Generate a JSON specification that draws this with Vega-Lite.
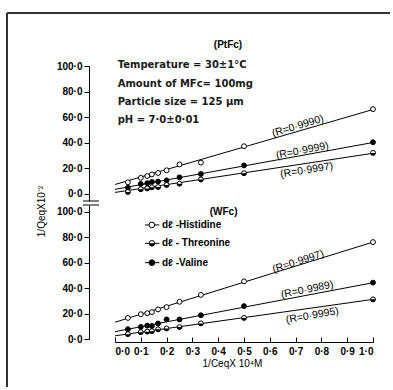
{
  "$schema": "https://vega.github.io/schema/vega-lite/v6.json",
  "padding": {"left": 6, "top": 12, "right": 0, "bottom": 0},
  "autosize": {"type": "pad"},
  "background": "white",
  "bounds": "flush",
  "spacing": 4,
  "config": {
    "view": {"stroke": null},
    "font": "Liberation Sans",
    "axis": {"domainColor": "black", "tickColor": "black", "labelColor": "black", "titleColor": "black", "grid": false, "labelFont": "Liberation Sans", "titleFont": "Liberation Sans", "labelFontSize": 10, "labelFontWeight": "bold", "titleFontSize": 10, "titleFontWeight": "normal", "domainWidth": 1, "tickWidth": 1}
  },
  "datasets": {
    "pts": [
      {"panel": "top", "amino": "Histidine", "x": 0.05, "y": 9.1}, {"panel": "top", "amino": "Histidine", "x": 0.1, "y": 12.6}, {"panel": "top", "amino": "Histidine", "x": 0.125, "y": 14.0}, {"panel": "top", "amino": "Histidine", "x": 0.143, "y": 15.3}, {"panel": "top", "amino": "Histidine", "x": 0.167, "y": 16.4}, {"panel": "top", "amino": "Histidine", "x": 0.2, "y": 18.5}, {"panel": "top", "amino": "Histidine", "x": 0.25, "y": 23.1}, {"panel": "top", "amino": "Histidine", "x": 0.333, "y": 24.5}, {"panel": "top", "amino": "Histidine", "x": 0.5, "y": 37.3}, {"panel": "top", "amino": "Histidine", "x": 1.0, "y": 66.3},
      {"panel": "top", "amino": "Valine", "x": 0.05, "y": 4.8}, {"panel": "top", "amino": "Valine", "x": 0.1, "y": 7.8}, {"panel": "top", "amino": "Valine", "x": 0.125, "y": 8.4}, {"panel": "top", "amino": "Valine", "x": 0.143, "y": 9.4}, {"panel": "top", "amino": "Valine", "x": 0.167, "y": 9.7}, {"panel": "top", "amino": "Valine", "x": 0.2, "y": 10.6}, {"panel": "top", "amino": "Valine", "x": 0.25, "y": 13.0}, {"panel": "top", "amino": "Valine", "x": 0.333, "y": 15.6}, {"panel": "top", "amino": "Valine", "x": 0.5, "y": 22.3}, {"panel": "top", "amino": "Valine", "x": 1.0, "y": 40.4},
      {"panel": "top", "amino": "Threonine", "x": 0.05, "y": 1.5}, {"panel": "top", "amino": "Threonine", "x": 0.1, "y": 3.7}, {"panel": "top", "amino": "Threonine", "x": 0.125, "y": 4.3}, {"panel": "top", "amino": "Threonine", "x": 0.143, "y": 5.2}, {"panel": "top", "amino": "Threonine", "x": 0.167, "y": 5.4}, {"panel": "top", "amino": "Threonine", "x": 0.2, "y": 7.0}, {"panel": "top", "amino": "Threonine", "x": 0.25, "y": 8.0}, {"panel": "top", "amino": "Threonine", "x": 0.333, "y": 11.3}, {"panel": "top", "amino": "Threonine", "x": 0.5, "y": 16.2}, {"panel": "top", "amino": "Threonine", "x": 1.0, "y": 32.1},
      {"panel": "bot", "amino": "Histidine", "x": 0.05, "y": 16.6}, {"panel": "bot", "amino": "Histidine", "x": 0.1, "y": 19.5}, {"panel": "bot", "amino": "Histidine", "x": 0.125, "y": 20.3}, {"panel": "bot", "amino": "Histidine", "x": 0.143, "y": 21.2}, {"panel": "bot", "amino": "Histidine", "x": 0.167, "y": 23.3}, {"panel": "bot", "amino": "Histidine", "x": 0.2, "y": 25.1}, {"panel": "bot", "amino": "Histidine", "x": 0.25, "y": 29.3}, {"panel": "bot", "amino": "Histidine", "x": 0.333, "y": 34.7}, {"panel": "bot", "amino": "Histidine", "x": 0.5, "y": 45.4}, {"panel": "bot", "amino": "Histidine", "x": 1.0, "y": 76.3},
      {"panel": "bot", "amino": "Valine", "x": 0.05, "y": 7.7}, {"panel": "bot", "amino": "Valine", "x": 0.1, "y": 9.5}, {"panel": "bot", "amino": "Valine", "x": 0.125, "y": 10.5}, {"panel": "bot", "amino": "Valine", "x": 0.143, "y": 10.2}, {"panel": "bot", "amino": "Valine", "x": 0.167, "y": 12.2}, {"panel": "bot", "amino": "Valine", "x": 0.2, "y": 15.4}, {"panel": "bot", "amino": "Valine", "x": 0.25, "y": 15.4}, {"panel": "bot", "amino": "Valine", "x": 0.333, "y": 18.7}, {"panel": "bot", "amino": "Valine", "x": 0.5, "y": 25.9}, {"panel": "bot", "amino": "Valine", "x": 1.0, "y": 44.4},
      {"panel": "bot", "amino": "Threonine", "x": 0.05, "y": 3.8}, {"panel": "bot", "amino": "Threonine", "x": 0.1, "y": 5.4}, {"panel": "bot", "amino": "Threonine", "x": 0.125, "y": 5.8}, {"panel": "bot", "amino": "Threonine", "x": 0.143, "y": 6.2}, {"panel": "bot", "amino": "Threonine", "x": 0.167, "y": 7.6}, {"panel": "bot", "amino": "Threonine", "x": 0.2, "y": 8.3}, {"panel": "bot", "amino": "Threonine", "x": 0.25, "y": 9.4}, {"panel": "bot", "amino": "Threonine", "x": 0.333, "y": 12.3}, {"panel": "bot", "amino": "Threonine", "x": 0.5, "y": 16.6}, {"panel": "bot", "amino": "Threonine", "x": 1.0, "y": 31.2}
    ],
    "fits": [
      {"panel": "top", "amino": "Histidine", "x": 0, "y": 7.4}, {"panel": "top", "amino": "Histidine", "x": 1, "y": 66.0},
      {"panel": "top", "amino": "Valine", "x": 0, "y": 3.6}, {"panel": "top", "amino": "Valine", "x": 1, "y": 40.2},
      {"panel": "top", "amino": "Threonine", "x": 0, "y": 1.2}, {"panel": "top", "amino": "Threonine", "x": 1, "y": 31.8},
      {"panel": "bot", "amino": "Histidine", "x": 0, "y": 13.2}, {"panel": "bot", "amino": "Histidine", "x": 1, "y": 76.3},
      {"panel": "bot", "amino": "Valine", "x": 0, "y": 5.8}, {"panel": "bot", "amino": "Valine", "x": 1, "y": 44.3},
      {"panel": "bot", "amino": "Threonine", "x": 0, "y": 2.5}, {"panel": "bot", "amino": "Threonine", "x": 1, "y": 31.2}
    ],
    "rlab": [
      {"panel": "top", "amino": "Histidine", "label": "(R=0·9990)", "x": 0.709, "y": 53.0},
      {"panel": "top", "amino": "Valine", "label": "(R=0·9999)", "x": 0.726, "y": 33.8},
      {"panel": "top", "amino": "Threonine", "label": "(R=0·9997)", "x": 0.743, "y": 18.5},
      {"panel": "bot", "amino": "Histidine", "label": "(R=0·9997)", "x": 0.71, "y": 60.9},
      {"panel": "bot", "amino": "Valine", "label": "(R=0·9989)", "x": 0.745, "y": 38.8},
      {"panel": "bot", "amino": "Threonine", "label": "(R=0·9995)", "x": 0.765, "y": 18.4}
    ],
    "notes": [
      {"text": "Temperature = 30±1°C", "x": 0.0104, "y": 100.8},
      {"text": "Amount of MFc= 100mg", "x": 0.0104, "y": 85.9},
      {"text": "Particle size = 125 µm", "x": 0.0104, "y": 72.1},
      {"text": "pH  = 7·0±0·01", "x": 0.0104, "y": 57.8}
    ],
    "heads": [
      {"panel": "top", "text": "(PtFc)", "x": 0.438, "y": 116.4},
      {"panel": "bot", "text": "(WFc)", "x": 0.421, "y": 100.2}
    ],
    "leg": [
      {"amino": "Histidine", "label": "dℓ -Histidine", "y": 89.8},
      {"amino": "Threonine", "label": "dℓ - Threonine", "y": 75.3},
      {"amino": "Valine", "label": "dℓ -Valine", "y": 60.1}
    ],
    "frame": [
      {"x": -0.4186, "x2": 1.066, "y": 141.4, "y2": 141.4},
      {"x": -0.4186, "x2": -0.4186, "y": 141.4, "y2": -150.9}
    ],
    "brk": [
      {"panel": "top", "x": -0.124, "x2": -0.062, "y": -5.5},
      {"panel": "bot", "x": -0.124, "x2": -0.062, "y": 105.5}
    ]
  },
  "resolve": {"scale": {"x": "shared", "y": "independent", "fill": "independent", "angle": "independent"}},
  "vconcat": [
    {
      "width": 258,
      "height": 135,
      "encoding": {
        "x": {"field": "x", "type": "quantitative", "scale": {"domain": [0, 1], "nice": false, "zero": false}, "axis": null},
        "y": {"field": "y", "type": "quantitative", "scale": {"domain": [-5.5, 100], "nice": false, "zero": false},
          "axis": {"values": [0, 20, 40, 60, 80, 100], "offset": 26, "tickSize": 5, "labelPadding": 2, "labelExpr": "replace(format(datum.value,'.1f'),'.','·')", "title": "1/QeqX10⁻²", "titleX": -48, "titleY": 145, "titleAngle": -90, "titleAlign": "center", "titleBaseline": "middle"}}
      },
      "layer": [
        {"data": {"name": "frame"}, "mark": {"type": "rule", "stroke": "#333333", "strokeWidth": 2}, "encoding": {"x2": {"field": "x2"}, "y2": {"field": "y2"}}},
        {"data": {"name": "brk"}, "transform": [{"filter": "datum.panel === 'top'"}], "mark": {"type": "rule", "stroke": "black", "strokeWidth": 1}, "encoding": {"x2": {"field": "x2"}}},
        {"data": {"name": "fits"}, "transform": [{"filter": "datum.panel === 'top'"}], "mark": {"type": "line", "stroke": "black", "strokeWidth": 1}, "encoding": {"detail": {"field": "amino"}}},
        {"data": {"name": "pts"}, "transform": [{"filter": "datum.panel === 'top'"}], "mark": {"type": "point", "shape": "circle", "size": 24, "stroke": "black", "strokeWidth": 1, "opacity": 1, "fillOpacity": 1},
          "encoding": {"fill": {"field": "amino", "type": "nominal", "scale": {"domain": ["Histidine", "Threonine", "Valine"], "range": ["white", "white", "black"]}, "legend": null}}},
        {"data": {"name": "pts"}, "transform": [{"filter": "datum.panel === 'top' && datum.amino === 'Threonine'"}], "mark": {"type": "point", "shape": "M-1,0A1,1 0 0,0 1,0Z", "size": 24, "fill": "black", "filled": true, "strokeWidth": 0, "opacity": 1}},
        {"data": {"name": "rlab"}, "transform": [{"filter": "datum.panel === 'top'"}], "mark": {"type": "text", "fontSize": 10.5, "align": "center", "baseline": "middle", "color": "black"},
          "encoding": {"text": {"field": "label"}, "angle": {"field": "amino", "type": "nominal", "scale": {"type": "ordinal", "domain": ["Histidine", "Valine", "Threonine"], "range": [343, 349, 351]}, "legend": null}}},
        {"data": {"name": "notes"}, "mark": {"type": "text", "font": "DejaVu Sans", "fontWeight": "bold", "fontSize": 10, "align": "left", "baseline": "middle", "color": "#1a1a1a"}, "encoding": {"text": {"field": "text"}}},
        {"data": {"name": "heads"}, "transform": [{"filter": "datum.panel === 'top'"}], "mark": {"type": "text", "fontSize": 10, "fontWeight": "bold", "align": "center", "baseline": "middle", "color": "black"}, "encoding": {"text": {"field": "text"}}}
      ]
    },
    {
      "width": 258,
      "height": 134,
      "encoding": {
        "y": {"field": "y", "type": "quantitative", "scale": {"domain": [0, 105.5], "nice": false, "zero": false},
          "axis": {"values": [0, 20, 40, 60, 80, 100], "offset": 26, "tickSize": 5, "labelPadding": 2, "labelExpr": "replace(format(datum.value,'.1f'),'.','·')", "title": null}}
      },
      "layer": [
        {
          "encoding": {
            "x": {"field": "x", "type": "quantitative", "scale": {"domain": [0, 1], "nice": false, "zero": false},
              "axis": {"values": [0, 0.1, 0.2, 0.3, 0.4, 0.5, 0.6, 0.7, 0.8, 0.9, 1.0], "labelOverlap": false, "offset": 3, "tickSize": -5, "labelPadding": 9, "labelExpr": "replace(format(datum.value,'.1f'),'.','·')", "title": "1/CeqX 10⁴M", "titleX": 117, "titleY": 21, "titleAlign": "center", "titleBaseline": "middle"}}
          },
          "layer": [
            {"data": {"name": "brk"}, "transform": [{"filter": "datum.panel === 'bot'"}], "mark": {"type": "rule", "stroke": "black", "strokeWidth": 1}, "encoding": {"x2": {"field": "x2"}}},
            {"data": {"name": "fits"}, "transform": [{"filter": "datum.panel === 'bot'"}], "mark": {"type": "line", "stroke": "black", "strokeWidth": 1}, "encoding": {"detail": {"field": "amino"}}},
            {"data": {"name": "pts"}, "transform": [{"filter": "datum.panel === 'bot'"}], "mark": {"type": "point", "shape": "circle", "size": 24, "stroke": "black", "strokeWidth": 1, "opacity": 1, "fillOpacity": 1},
              "encoding": {"fill": {"field": "amino", "type": "nominal", "scale": {"domain": ["Histidine", "Threonine", "Valine"], "range": ["white", "white", "black"]}, "legend": null}}},
            {"data": {"name": "pts"}, "transform": [{"filter": "datum.panel === 'bot' && datum.amino === 'Threonine'"}], "mark": {"type": "point", "shape": "M-1,0A1,1 0 0,0 1,0Z", "size": 24, "fill": "black", "filled": true, "strokeWidth": 0, "opacity": 1}},
            {"data": {"name": "rlab"}, "transform": [{"filter": "datum.panel === 'bot'"}], "mark": {"type": "text", "fontSize": 10.5, "align": "center", "baseline": "middle", "color": "black"},
              "encoding": {"text": {"field": "label"}, "angle": {"field": "amino", "type": "nominal", "scale": {"type": "ordinal", "domain": ["Histidine", "Valine", "Threonine"], "range": [342, 348.5, 350]}, "legend": null}}},
            {"data": {"name": "heads"}, "transform": [{"filter": "datum.panel === 'bot'"}], "mark": {"type": "text", "fontSize": 10, "fontWeight": "bold", "align": "center", "baseline": "middle", "color": "black"}, "encoding": {"text": {"field": "text"}}}
          ]
        },
        {
          "data": {"name": "leg"},
          "layer": [
            {"mark": {"type": "rule", "stroke": "black", "strokeWidth": 1}, "encoding": {"x": {"datum": 0.116, "type": "quantitative", "axis": {"values": [0, 0.1, 0.2, 0.3, 0.4, 0.5, 0.6, 0.7, 0.8, 0.9, 1.0], "labelOverlap": false, "offset": 3, "tickSize": -5, "labelPadding": 9, "labelExpr": "replace(format(datum.value,'.1f'),'.','·')", "title": "1/CeqX 10⁴M", "titleX": 117, "titleY": 21, "titleAlign": "center", "titleBaseline": "middle"}}, "x2": {"datum": 0.172}}},
            {"mark": {"type": "point", "shape": "circle", "size": 32, "stroke": "black", "strokeWidth": 1, "opacity": 1, "fillOpacity": 1},
              "encoding": {"x": {"datum": 0.143, "type": "quantitative", "axis": {"values": [0, 0.1, 0.2, 0.3, 0.4, 0.5, 0.6, 0.7, 0.8, 0.9, 1.0], "labelOverlap": false, "offset": 3, "tickSize": -5, "labelPadding": 9, "labelExpr": "replace(format(datum.value,'.1f'),'.','·')", "title": "1/CeqX 10⁴M", "titleX": 117, "titleY": 21, "titleAlign": "center", "titleBaseline": "middle"}}, "fill": {"field": "amino", "type": "nominal", "scale": {"domain": ["Histidine", "Threonine", "Valine"], "range": ["white", "white", "black"]}, "legend": null}}},
            {"transform": [{"filter": "datum.amino === 'Threonine'"}], "mark": {"type": "point", "shape": "M-1,0A1,1 0 0,0 1,0Z", "size": 32, "fill": "black", "filled": true, "strokeWidth": 0, "opacity": 1},
              "encoding": {"x": {"datum": 0.143, "type": "quantitative", "axis": {"values": [0, 0.1, 0.2, 0.3, 0.4, 0.5, 0.6, 0.7, 0.8, 0.9, 1.0], "labelOverlap": false, "offset": 3, "tickSize": -5, "labelPadding": 9, "labelExpr": "replace(format(datum.value,'.1f'),'.','·')", "title": "1/CeqX 10⁴M", "titleX": 117, "titleY": 21, "titleAlign": "center", "titleBaseline": "middle"}}}},
            {"mark": {"type": "text", "fontSize": 10, "fontWeight": "bold", "align": "left", "baseline": "middle", "color": "black"},
              "encoding": {"x": {"datum": 0.182, "type": "quantitative", "axis": {"values": [0, 0.1, 0.2, 0.3, 0.4, 0.5, 0.6, 0.7, 0.8, 0.9, 1.0], "labelOverlap": false, "offset": 3, "tickSize": -5, "labelPadding": 9, "labelExpr": "replace(format(datum.value,'.1f'),'.','·')", "title": "1/CeqX 10⁴M", "titleX": 117, "titleY": 21, "titleAlign": "center", "titleBaseline": "middle"}}, "text": {"field": "label"}}}
          ]
        }
      ]
    }
  ]
}
